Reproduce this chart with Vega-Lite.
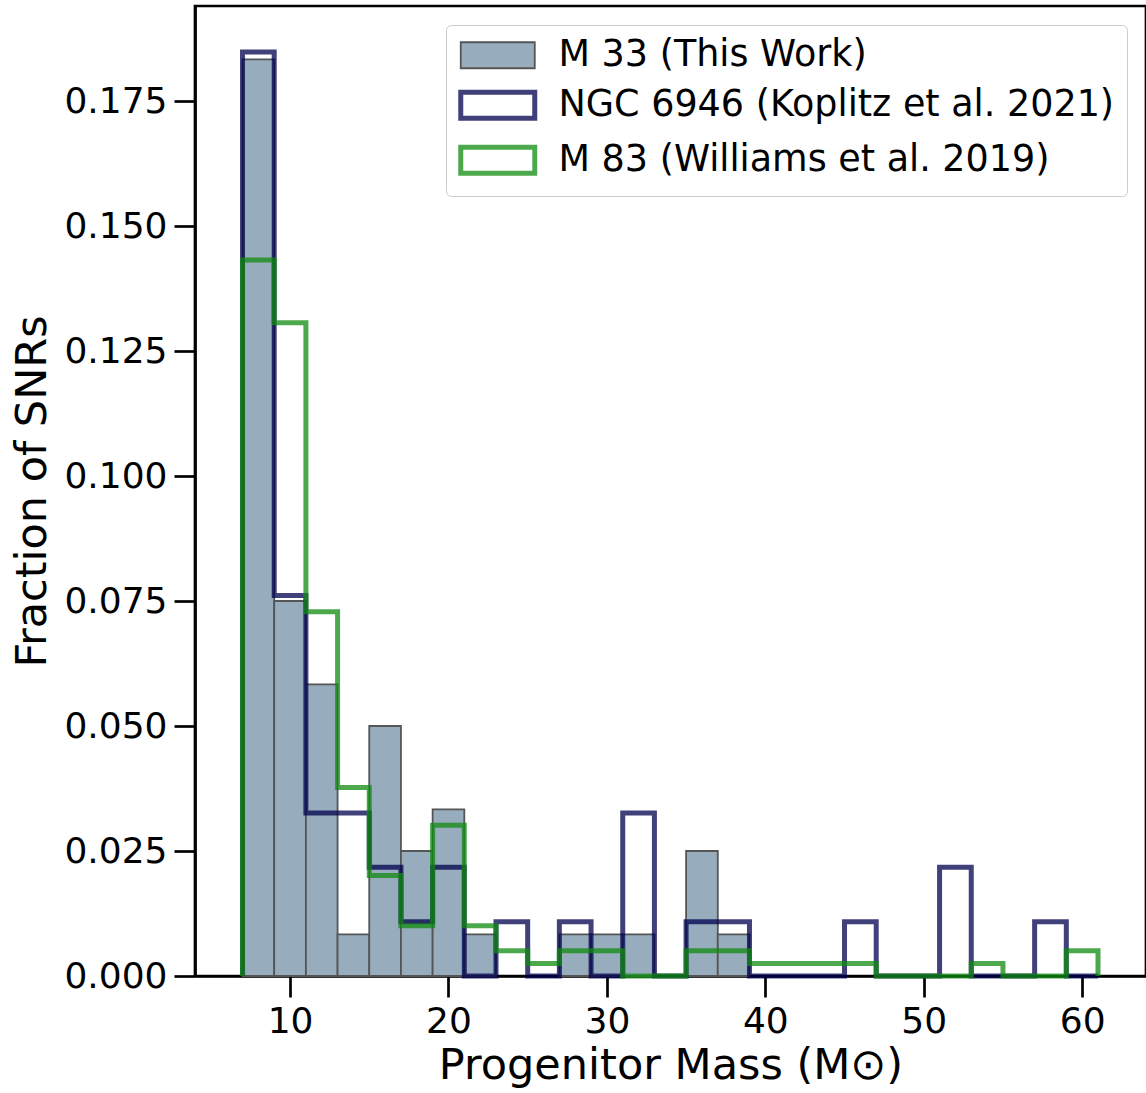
{
  "$schema": "https://vega.github.io/schema/vega-lite/v6.json",
  "autosize": {"type": "none"},
  "padding": {"left": 195, "top": 6, "right": 0, "bottom": 117},
  "width": 951,
  "height": 970,
  "config": {
    "font": "DejaVu Sans",
    "view": {"stroke": "#000000", "strokeWidth": 2.7},
    "axis": {
      "domainColor": "#000000",
      "domainWidth": 2.7,
      "tickColor": "#000000",
      "tickWidth": 2.7,
      "tickSize": 21,
      "labelFont": "DejaVu Sans",
      "labelFontSize": 36,
      "labelColor": "#000000",
      "labelPadding": 7,
      "labelFlush": false,
      "labelOverlap": false,
      "titleFont": "DejaVu Sans",
      "titleFontSize": 43,
      "titleFontWeight": "normal",
      "titleColor": "#000000",
      "grid": false,
      "zindex": 1
    },
    "axisX": {"titlePadding": 5},
    "axisY": {"titlePadding": 9},
    "legend": {
      "orient": "top-right",
      "offset": 19,
      "padding": 12,
      "strokeColor": "#cccccc",
      "fillColor": "rgba(255,255,255,0.8)",
      "cornerRadius": 5,
      "symbolSize": 676,
      "labelFont": "DejaVu Sans",
      "labelFontSize": 36.5,
      "labelColor": "#000000",
      "labelLimit": 0,
      "labelOffset": 64,
      "rowPadding": 8
    }
  },
  "datasets": {
    "m33": [
      {"series": "M 33 (This Work)", "mass": 7, "mass_hi": 9, "frac": 0.18333},
      {"series": "M 33 (This Work)", "mass": 9, "mass_hi": 11, "frac": 0.075},
      {"series": "M 33 (This Work)", "mass": 11, "mass_hi": 13, "frac": 0.05833},
      {"series": "M 33 (This Work)", "mass": 13, "mass_hi": 15, "frac": 0.00833},
      {"series": "M 33 (This Work)", "mass": 15, "mass_hi": 17, "frac": 0.05},
      {"series": "M 33 (This Work)", "mass": 17, "mass_hi": 19, "frac": 0.025},
      {"series": "M 33 (This Work)", "mass": 19, "mass_hi": 21, "frac": 0.03333},
      {"series": "M 33 (This Work)", "mass": 21, "mass_hi": 23, "frac": 0.00833},
      {"series": "M 33 (This Work)", "mass": 27, "mass_hi": 29, "frac": 0.00833},
      {"series": "M 33 (This Work)", "mass": 29, "mass_hi": 31, "frac": 0.00833},
      {"series": "M 33 (This Work)", "mass": 31, "mass_hi": 33, "frac": 0.00833},
      {"series": "M 33 (This Work)", "mass": 35, "mass_hi": 37, "frac": 0.025},
      {"series": "M 33 (This Work)", "mass": 37, "mass_hi": 39, "frac": 0.00833}
    ],
    "steps": [
      {"series": "NGC 6946 (Koplitz et al. 2021)", "mass": 7, "frac": 0},
      {"series": "NGC 6946 (Koplitz et al. 2021)", "mass": 7, "frac": 0.18478},
      {"series": "NGC 6946 (Koplitz et al. 2021)", "mass": 9, "frac": 0.07609},
      {"series": "NGC 6946 (Koplitz et al. 2021)", "mass": 11, "frac": 0.03261},
      {"series": "NGC 6946 (Koplitz et al. 2021)", "mass": 13, "frac": 0.03261},
      {"series": "NGC 6946 (Koplitz et al. 2021)", "mass": 15, "frac": 0.02174},
      {"series": "NGC 6946 (Koplitz et al. 2021)", "mass": 17, "frac": 0.01087},
      {"series": "NGC 6946 (Koplitz et al. 2021)", "mass": 19, "frac": 0.02174},
      {"series": "NGC 6946 (Koplitz et al. 2021)", "mass": 21, "frac": 0},
      {"series": "NGC 6946 (Koplitz et al. 2021)", "mass": 23, "frac": 0.01087},
      {"series": "NGC 6946 (Koplitz et al. 2021)", "mass": 25, "frac": 0},
      {"series": "NGC 6946 (Koplitz et al. 2021)", "mass": 27, "frac": 0.01087},
      {"series": "NGC 6946 (Koplitz et al. 2021)", "mass": 29, "frac": 0},
      {"series": "NGC 6946 (Koplitz et al. 2021)", "mass": 31, "frac": 0.03261},
      {"series": "NGC 6946 (Koplitz et al. 2021)", "mass": 33, "frac": 0},
      {"series": "NGC 6946 (Koplitz et al. 2021)", "mass": 35, "frac": 0.01087},
      {"series": "NGC 6946 (Koplitz et al. 2021)", "mass": 37, "frac": 0.01087},
      {"series": "NGC 6946 (Koplitz et al. 2021)", "mass": 39, "frac": 0},
      {"series": "NGC 6946 (Koplitz et al. 2021)", "mass": 41, "frac": 0},
      {"series": "NGC 6946 (Koplitz et al. 2021)", "mass": 43, "frac": 0},
      {"series": "NGC 6946 (Koplitz et al. 2021)", "mass": 45, "frac": 0.01087},
      {"series": "NGC 6946 (Koplitz et al. 2021)", "mass": 47, "frac": 0},
      {"series": "NGC 6946 (Koplitz et al. 2021)", "mass": 49, "frac": 0},
      {"series": "NGC 6946 (Koplitz et al. 2021)", "mass": 51, "frac": 0.02174},
      {"series": "NGC 6946 (Koplitz et al. 2021)", "mass": 53, "frac": 0},
      {"series": "NGC 6946 (Koplitz et al. 2021)", "mass": 55, "frac": 0},
      {"series": "NGC 6946 (Koplitz et al. 2021)", "mass": 57, "frac": 0.01087},
      {"series": "NGC 6946 (Koplitz et al. 2021)", "mass": 59, "frac": 0},
      {"series": "NGC 6946 (Koplitz et al. 2021)", "mass": 61, "frac": 0},
      {"series": "M 83 (Williams et al. 2019)", "mass": 7, "frac": 0},
      {"series": "M 83 (Williams et al. 2019)", "mass": 7, "frac": 0.14322},
      {"series": "M 83 (Williams et al. 2019)", "mass": 9, "frac": 0.13065},
      {"series": "M 83 (Williams et al. 2019)", "mass": 11, "frac": 0.07286},
      {"series": "M 83 (Williams et al. 2019)", "mass": 13, "frac": 0.03769},
      {"series": "M 83 (Williams et al. 2019)", "mass": 15, "frac": 0.0201},
      {"series": "M 83 (Williams et al. 2019)", "mass": 17, "frac": 0.01005},
      {"series": "M 83 (Williams et al. 2019)", "mass": 19, "frac": 0.03015},
      {"series": "M 83 (Williams et al. 2019)", "mass": 21, "frac": 0.01005},
      {"series": "M 83 (Williams et al. 2019)", "mass": 23, "frac": 0.00503},
      {"series": "M 83 (Williams et al. 2019)", "mass": 25, "frac": 0.00251},
      {"series": "M 83 (Williams et al. 2019)", "mass": 27, "frac": 0.00503},
      {"series": "M 83 (Williams et al. 2019)", "mass": 29, "frac": 0.00503},
      {"series": "M 83 (Williams et al. 2019)", "mass": 31, "frac": 0},
      {"series": "M 83 (Williams et al. 2019)", "mass": 33, "frac": 0},
      {"series": "M 83 (Williams et al. 2019)", "mass": 35, "frac": 0.00503},
      {"series": "M 83 (Williams et al. 2019)", "mass": 37, "frac": 0.00503},
      {"series": "M 83 (Williams et al. 2019)", "mass": 39, "frac": 0.00251},
      {"series": "M 83 (Williams et al. 2019)", "mass": 41, "frac": 0.00251},
      {"series": "M 83 (Williams et al. 2019)", "mass": 43, "frac": 0.00251},
      {"series": "M 83 (Williams et al. 2019)", "mass": 45, "frac": 0.00251},
      {"series": "M 83 (Williams et al. 2019)", "mass": 47, "frac": 0},
      {"series": "M 83 (Williams et al. 2019)", "mass": 49, "frac": 0},
      {"series": "M 83 (Williams et al. 2019)", "mass": 51, "frac": 0},
      {"series": "M 83 (Williams et al. 2019)", "mass": 53, "frac": 0.00251},
      {"series": "M 83 (Williams et al. 2019)", "mass": 55, "frac": 0},
      {"series": "M 83 (Williams et al. 2019)", "mass": 57, "frac": 0},
      {"series": "M 83 (Williams et al. 2019)", "mass": 59, "frac": 0.00503},
      {"series": "M 83 (Williams et al. 2019)", "mass": 61, "frac": 0}
    ]
  },
  "encoding": {
    "x": {
      "field": "mass",
      "type": "quantitative",
      "scale": {"domain": [4, 64.03], "nice": false, "zero": false},
      "axis": {"title": "Progenitor Mass (M⊙)", "values": [10, 20, 30, 40, 50, 60], "format": "d"}
    },
    "y": {
      "field": "frac",
      "type": "quantitative",
      "scale": {"domain": [0, 0.194], "nice": false},
      "axis": {"title": "Fraction of SNRs", "values": [0, 0.025, 0.05, 0.075, 0.1, 0.125, 0.15, 0.175], "format": ".3f"}
    }
  },
  "layer": [
    {
      "data": {"name": "m33"},
      "mark": {"type": "bar"},
      "encoding": {
        "x2": {"field": "mass_hi"},
        "y2": {"datum": 0},
        "fill": {
          "field": "series",
          "type": "ordinal",
          "scale": {
            "type": "ordinal",
            "domain": ["M 33 (This Work)", "NGC 6946 (Koplitz et al. 2021)", "M 83 (Williams et al. 2019)"],
            "range": ["#97adbd", "#ffffff", "#ffffff"]
          },
          "legend": {"title": null, "symbolType": "M-1.192,-1H4.5V1H-1.192Z"}
        },
        "stroke": {
          "field": "series",
          "type": "ordinal",
          "scale": {
            "type": "ordinal",
            "domain": ["M 33 (This Work)", "NGC 6946 (Koplitz et al. 2021)", "M 83 (Williams et al. 2019)"],
            "range": ["#555555", "#00004e", "#108b10"]
          },
          "legend": {"title": null, "symbolType": "M-1.192,-1H4.5V1H-1.192Z"}
        },
        "strokeWidth": {
          "field": "series",
          "type": "ordinal",
          "scale": {
            "type": "ordinal",
            "domain": ["M 33 (This Work)", "NGC 6946 (Koplitz et al. 2021)", "M 83 (Williams et al. 2019)"],
            "range": [1.8, 5, 5]
          },
          "legend": {"title": null, "symbolType": "M-1.192,-1H4.5V1H-1.192Z"}
        },
        "opacity": {
          "field": "series",
          "type": "ordinal",
          "scale": {
            "type": "ordinal",
            "domain": ["M 33 (This Work)", "NGC 6946 (Koplitz et al. 2021)", "M 83 (Williams et al. 2019)"],
            "range": [1, 0.75, 0.75]
          },
          "legend": {"title": null, "symbolType": "M-1.192,-1H4.5V1H-1.192Z"}
        }
      }
    },
    {
      "data": {"name": "steps"},
      "transform": [{"filter": "datum.series === 'NGC 6946 (Koplitz et al. 2021)'"}],
      "mark": {"type": "line", "interpolate": "step-after", "stroke": "#00004e", "strokeWidth": 5, "opacity": 0.75, "strokeJoin": "miter"},
      "encoding": {"order": {"value": null}}
    },
    {
      "data": {"name": "steps"},
      "transform": [{"filter": "datum.series === 'M 83 (Williams et al. 2019)'"}],
      "mark": {"type": "line", "interpolate": "step-after", "stroke": "#108b10", "strokeWidth": 5, "opacity": 0.75, "strokeJoin": "miter"},
      "encoding": {"order": {"value": null}}
    }
  ]
}
